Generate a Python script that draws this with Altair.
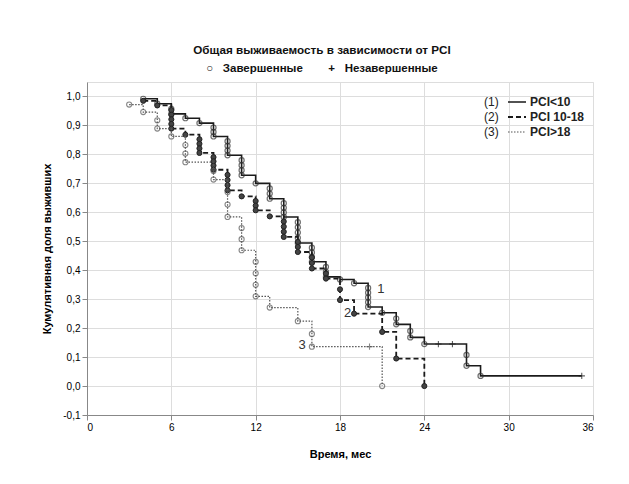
import altair as alt
import pandas as pd

# ---- data -------------------------------------------------------------
# Curve (1) PCI<10
c1_time = [4, 5, 6, 7, 8, 9, 10, 11, 12, 13, 14, 15, 16, 17, 18, 19, 20, 21, 22, 23, 24, 27, 28]
c1_surv = [0.992, 0.975, 0.94, 0.925, 0.908, 0.862, 0.797, 0.728, 0.70, 0.647, 0.584, 0.494,
           0.429, 0.377, 0.368, 0.355, 0.273, 0.253, 0.213, 0.168, 0.145, 0.07, 0.035]
c1_deaths = [1, 1, 2, 1, 1, 3, 4, 4, 1, 3, 4, 5, 4, 3, 1, 1, 5, 1, 2, 2, 1, 2, 1]
c1_censored = [25, 26, 35.2]

# Curve (2) PCI 10-18
c2_time = [4, 5, 6, 7, 8, 9, 10, 11, 12, 13, 14, 15, 16, 17, 18, 19, 21, 22, 24]
c2_surv = [0.985, 0.969, 0.889, 0.868, 0.805, 0.747, 0.676, 0.655, 0.607, 0.586, 0.515,
           0.463, 0.406, 0.371, 0.297, 0.25, 0.187, 0.095, 0.0]
c2_deaths = [1, 1, 5, 1, 4, 4, 4, 1, 3, 1, 4, 3, 3, 2, 2, 1, 1, 1, 1]
c2_censored = []

# Curve (3) PCI>18
c3_time = [3, 4, 5, 6, 7, 9, 10, 11, 12, 13, 15, 16, 21]
c3_surv = [0.972, 0.946, 0.889, 0.862, 0.773, 0.713, 0.584, 0.469, 0.31, 0.271, 0.224, 0.136, 0.0]
c3_deaths = [1, 1, 2, 1, 3, 2, 3, 3, 4, 1, 1, 2, 1]
c3_censored = [20.1]

curve_ids = ["1", "2", "3"]
curve_names = ["PCI<10", "PCI 10-18", "PCI>18"]
curve_label_pos_t = [20.9, 18.55, 15.3]
curve_label_pos_s = [0.334, 0.252, 0.141]

x_ticks = [0, 6, 12, 18, 24, 30, 36]
y_ticks = [-0.1, 0.0, 0.1, 0.2, 0.3, 0.4, 0.5, 0.6, 0.7, 0.8, 0.9, 1.0]

NB = "\u00a0"
title_text = "Общая выживаемость в зависимости от PCI"
subtitle_text = "○" + NB * 3 + "Завершенные" + NB * 8 + "+" + NB * 3 + "Незавершенные"
x_title = "Время, мес"
y_title = "Кумулятивная доля выживших"

# ---- build tables -------------------------------------------------------
curves = [
    (c1_time, c1_surv, c1_deaths, c1_censored),
    (c2_time, c2_surv, c2_deaths, c2_censored),
    (c3_time, c3_surv, c3_deaths, c3_censored),
]

FONT = "Liberation Sans"
x_scale = alt.Scale(domain=[0, 36], nice=False, zero=False)
y_scale = alt.Scale(domain=[-0.1, 1.05], nice=False, zero=False)

line_styles = [
    dict(strokeDash=[1, 0], strokeWidth=1.6, color="#1a1a1a"),
    dict(strokeDash=[5, 3], strokeWidth=1.8, color="#1a1a1a"),
    dict(strokeDash=[1.5, 1.5], strokeWidth=1.2, color="#555555"),
]
circle_styles = [
    dict(filled=False, stroke="#333333", strokeWidth=1.2),
    dict(filled=True, fill="#444444", stroke="#222222", strokeWidth=1.0, fillOpacity=1),
    dict(filled=False, stroke="#555555", strokeWidth=1.1),
]

layers = []
for i, (tt, ss, dd, cc) in enumerate(curves):
    # step line
    pts = [{"t": t, "s": s, "o": k} for k, (t, s) in enumerate(zip(tt, ss))]
    extra = [c for c in cc if c > tt[-1]]
    if extra:
        pts.append({"t": max(extra), "s": ss[-1], "o": len(pts)})
    ldf = pd.DataFrame(pts)
    st = line_styles[i]
    layers.append(
        alt.Chart(ldf).mark_line(interpolate="step-after", strokeDash=st["strokeDash"],
                                 strokeWidth=st["strokeWidth"], color=st["color"]).encode(
            x=alt.X("t:Q", scale=x_scale),
            y=alt.Y("s:Q", scale=y_scale),
            order="o:Q",
        )
    )
    # circles for each complete observation (stacked on the step)
    circ = []
    prev = 1.0
    for t, s, n in zip(tt, ss, dd):
        for k in range(1, n + 1):
            circ.append({"t": t, "s": prev - k * (prev - s) / n})
        prev = s
    cdf = pd.DataFrame(circ)
    cs = circle_styles[i]
    layers.append(
        alt.Chart(cdf).mark_point(shape="circle", size=26, **cs).encode(
            x=alt.X("t:Q", scale=x_scale),
            y=alt.Y("s:Q", scale=y_scale),
        )
    )
    # censored marks (+)
    if cc:
        cens = []
        for c in cc:
            sv = 1.0
            for t, s in zip(tt, ss):
                if t <= c:
                    sv = s
            cens.append({"t": c, "s": sv})
        layers.append(
            alt.Chart(pd.DataFrame(cens)).mark_point(
                shape="M-1,0L1,0M0,-1L0,1", size=40, filled=False,
                stroke=st["color"], strokeWidth=1.1).encode(
                x=alt.X("t:Q", scale=x_scale),
                y=alt.Y("s:Q", scale=y_scale),
            )
        )

# curve number labels
lab_df = pd.DataFrame({"t": curve_label_pos_t, "s": curve_label_pos_s, "txt": curve_ids})
layers.append(
    alt.Chart(lab_df).mark_text(font=FONT, fontSize=13, color="#333333",
                                align="center", baseline="middle").encode(
        x=alt.X("t:Q", scale=x_scale),
        y=alt.Y("s:Q", scale=y_scale),
        text="txt:N",
    )
)

# legend (top right, inside plot)
leg_rows_y = [20, 35, 50]
for i in range(3):
    row = pd.DataFrame({"n": ["(" + curve_ids[i] + ")"], "lab": [curve_names[i]]})
    st = line_styles[i]
    layers.append(
        alt.Chart(row).mark_text(font=FONT, fontSize=12, color="#222222", align="left",
                                 baseline="middle").encode(
            x=alt.value(397), y=alt.value(leg_rows_y[i]), text="n:N")
    )
    layers.append(
        alt.Chart(row).mark_rule(strokeDash=st["strokeDash"], strokeWidth=st["strokeWidth"],
                                 color=st["color"]).encode(
            x=alt.value(421), x2=alt.value(439), y=alt.value(leg_rows_y[i]))
    )
    layers.append(
        alt.Chart(row).mark_text(font=FONT, fontSize=12, fontWeight="bold", color="#222222",
                                 align="left", baseline="middle").encode(
            x=alt.value(443), y=alt.value(leg_rows_y[i]), text="lab:N")
    )

# axes carrier layer
axis_df = pd.DataFrame({"t": [0], "s": [0]})
axes_layer = alt.Chart(axis_df).mark_point(opacity=0).encode(
    x=alt.X("t:Q", scale=x_scale, title=x_title,
            axis=alt.Axis(values=x_ticks, tickCount=20, labelOverlap=False, titlePadding=16)),
    y=alt.Y("s:Q", scale=y_scale, title=y_title,
            axis=alt.Axis(values=y_ticks, tickCount=20, labelOverlap=False,
                          labelExpr="replace(replace(format(datum.value, '.1f'), '.', ','), '\u2212', '-')",
                          titlePadding=10)),
)

chart = alt.layer(axes_layer, *layers).properties(
    width=506,
    height=333,
    autosize=alt.AutoSizeParams(type="none"),
    padding={"left": 79, "top": 74, "right": 28, "bottom": 55},
    title=alt.TitleParams(
        text=title_text, subtitle=subtitle_text, anchor="middle", dx=-18, offset=8,
        font=FONT, fontSize=11.7, fontWeight="bold", color="#111111",
        subtitleFont=FONT, subtitleFontSize=11.5, subtitleFontWeight="bold",
        subtitleColor="#111111", subtitlePadding=6,
    ),
).configure_axis(
    labelFont=FONT, labelFontSize=11, labelFontWeight="bold", labelColor="#222222",
    titleFont=FONT, titleFontSize=11, titleFontWeight="bold", titleColor="#111111",
    gridColor="#e4e4e4", gridWidth=1, domainColor="#333333", domainWidth=1.5,
    tickColor="#333333", tickSize=3, labelPadding=4, labelOverlap=False,
).configure_view(
    stroke="#333333", strokeWidth=1.5
).configure(background="white")

chart.save("out.html", embed_options={"renderer": "svg", "actions": False})
